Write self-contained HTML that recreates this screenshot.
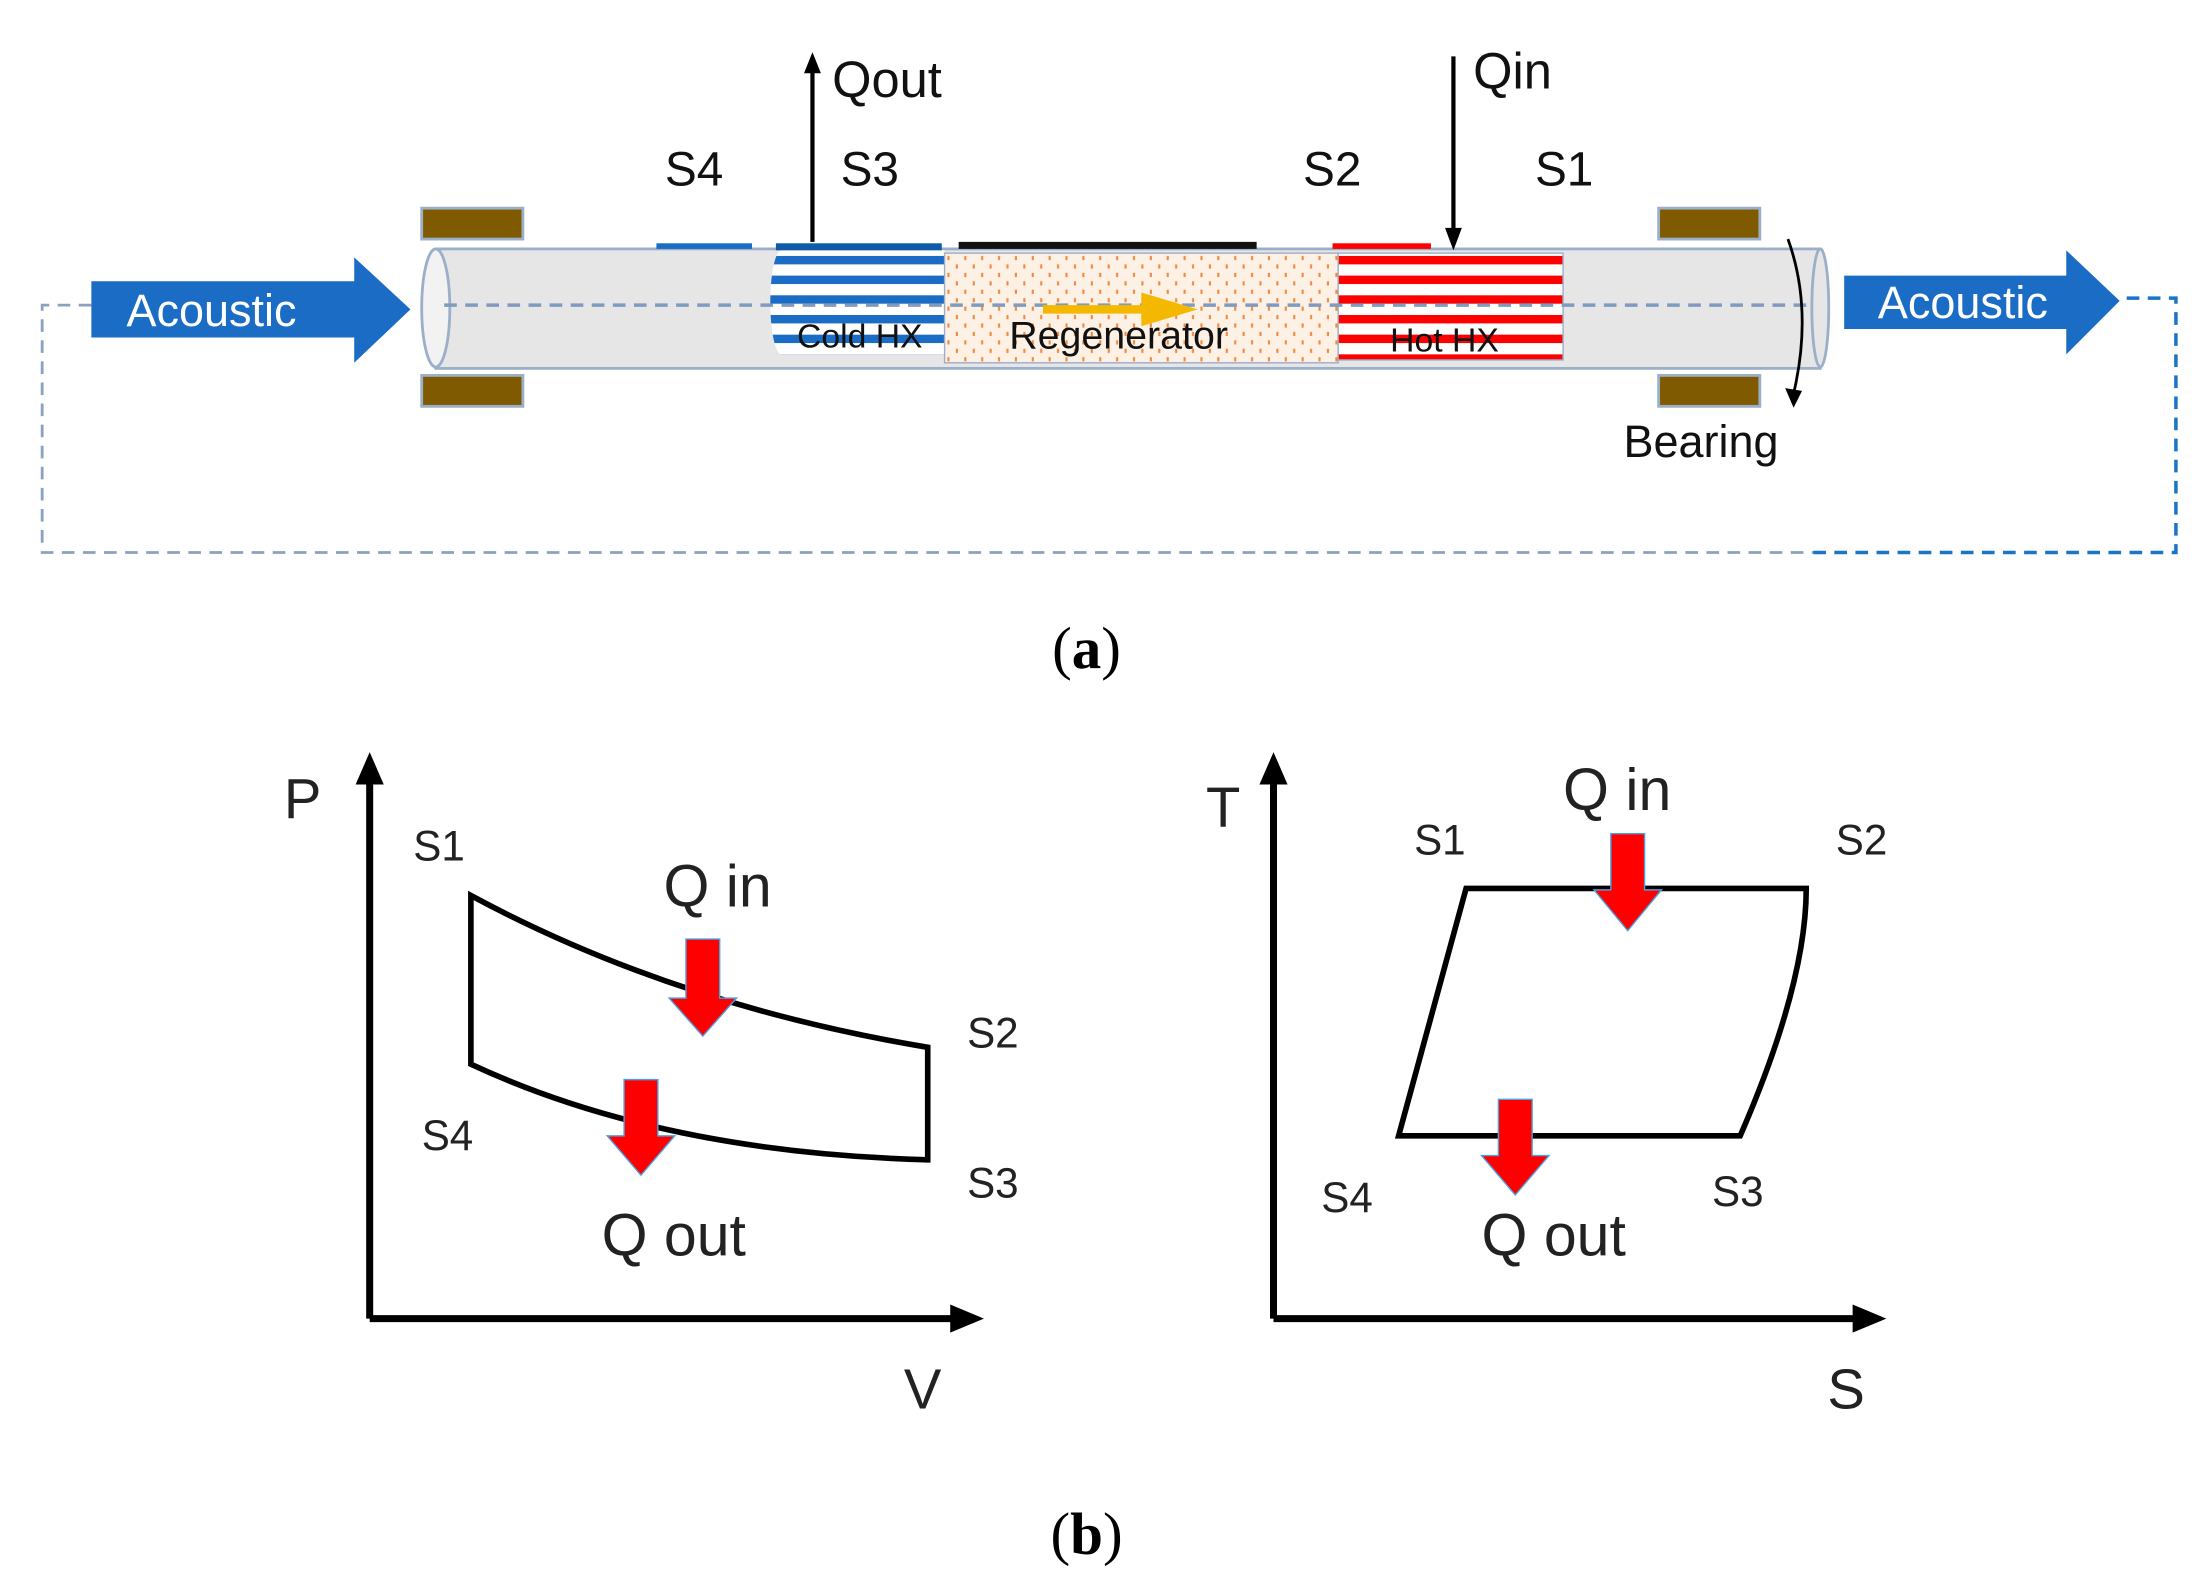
<!DOCTYPE html>
<html><head><style>html,body{margin:0;padding:0;background:#fff}svg{display:block}</style></head>
<body>
<svg width="2197" height="1590" viewBox="0 0 1563 1131" xmlns="http://www.w3.org/2000/svg" font-family="Liberation Sans, sans-serif">
<defs>
<pattern id="dots" width="12" height="12" patternUnits="userSpaceOnUse">
<rect width="12" height="12" fill="#fdf1e6"/>
<rect x="2" y="2" width="1.5" height="3" fill="#f08a40"/><rect x="8" y="8" width="1.5" height="3" fill="#f08a40"/>
</pattern>
<pattern id="blue" width="10" height="14" patternUnits="userSpaceOnUse">
<rect width="10" height="14" fill="#fff"/><rect y="0" width="10" height="6" fill="#1a6cc4"/>
</pattern>
<pattern id="red" width="10" height="14" patternUnits="userSpaceOnUse">
<rect width="10" height="14" fill="#fff"/><rect y="0" width="10" height="6" fill="#f00"/>
</pattern>
</defs>
<!-- dashed loop -->
<polyline points="65,217 30,217 30,393 1290,393" fill="none" stroke="#8aa2c0" stroke-width="2" stroke-dasharray="9,6"/>
<polyline points="1290,393 1548,393 1548,212 1508,212" fill="none" stroke="#1a74c8" stroke-width="2.5" stroke-dasharray="9,6"/>
<!-- bearings -->
<rect x="300" y="148" width="72" height="22" fill="#7f5a00" stroke="#9bb0c8" stroke-width="2"/>
<rect x="300" y="267" width="72" height="22" fill="#7f5a00" stroke="#9bb0c8" stroke-width="2"/>
<rect x="1180" y="148" width="72" height="22" fill="#7f5a00" stroke="#9bb0c8" stroke-width="2"/>
<rect x="1180" y="267" width="72" height="22" fill="#7f5a00" stroke="#9bb0c8" stroke-width="2"/>
<!-- tube -->
<rect x="310" y="177" width="985" height="85" fill="#e6e6e6" stroke="#9bb0c8" stroke-width="2"/>
<ellipse cx="310" cy="219" rx="10" ry="42" fill="#f2f2f2" stroke="#9bb0c8" stroke-width="2"/>
<ellipse cx="1295" cy="219" rx="6" ry="42" fill="#e6e6e6" stroke="#9bb0c8" stroke-width="2"/>
<rect x="556" y="178" width="116" height="74" fill="url(#blue)"/>
<ellipse cx="556" cy="215" rx="8" ry="37" fill="url(#blue)"/>
<rect x="672" y="180" width="280" height="78" fill="url(#dots)" stroke="#9bb0c8"/>
<rect x="952" y="180" width="160" height="76" fill="url(#red)" stroke="#9bb0c8"/>
<line x1="316" y1="217" x2="1288" y2="217" stroke="#7f9cc0" stroke-width="2.5" stroke-dasharray="9,6"/>
<!-- top bars -->
<rect x="467" y="173" width="68" height="4" fill="#1a6cc4"/>
<rect x="552" y="173" width="118" height="5" fill="#0d5aa8"/>
<rect x="682" y="172" width="212" height="5" fill="#111"/>
<rect x="948" y="173" width="70" height="4" fill="#f00"/>
<!-- yellow arrow -->
<line x1="742" y1="220" x2="815" y2="220" stroke="#f5b800" stroke-width="6"/>
<polygon points="812,208 852,220 812,232" fill="#f5b800"/>
<text x="567" y="247" font-size="24" fill="#111">Cold HX</text>
<text x="718" y="248" font-size="28" fill="#111">Regenerator</text>
<text x="989" y="250" font-size="24" fill="#111">Hot HX</text>
<!-- Qout / Qin -->
<line x1="578" y1="172" x2="578" y2="50" stroke="#000" stroke-width="3"/>
<polygon points="572,52 578,37 584,52" fill="#000"/>
<text x="592" y="69" font-size="36" fill="#111">Qout</text>
<line x1="1034" y1="40" x2="1034" y2="165" stroke="#000" stroke-width="3"/>
<polygon points="1028,162 1034,178 1040,162" fill="#000"/>
<text x="1048" y="63" font-size="36" fill="#111">Qin</text>
<text x="473" y="132" font-size="34" fill="#111">S4</text>
<text x="598" y="132" font-size="34" fill="#111">S3</text>
<text x="927" y="132" font-size="34" fill="#111">S2</text>
<text x="1092" y="132" font-size="34" fill="#111">S1</text>
<!-- acoustic arrows -->
<polygon points="65,200 252,200 252,183 292,220 252,258 252,240 65,240" fill="#1a6cc4"/>
<text x="90" y="232" font-size="32" fill="#fff">Acoustic</text>
<polygon points="1312,196 1470,196 1470,178 1508,214 1470,252 1470,234 1312,234" fill="#1a6cc4"/>
<text x="1336" y="226" font-size="32" fill="#fff">Acoustic</text>
<!-- bearing curved arrow -->
<path d="M1272,170 Q1290,220 1276,280" fill="none" stroke="#000" stroke-width="2"/>
<polygon points="1270,276 1276,290 1282,278" fill="#000"/>
<text x="1155" y="325" font-size="32" fill="#111">Bearing</text>
<text x="773" y="475" font-size="42" font-family="Liberation Serif, serif" text-anchor="middle">(<tspan font-weight="bold">a</tspan>)</text>
<!-- PV -->
<g stroke="#000" stroke-width="5" fill="none">
<line x1="263" y1="938" x2="263" y2="555"/><line x1="263" y1="938" x2="680" y2="938"/>
<line x1="906" y1="938" x2="906" y2="555"/><line x1="906" y1="938" x2="1322" y2="938"/>
</g>
<polygon points="253,558 263,535 273,558" fill="#000"/><polygon points="676,928 700,938 676,948" fill="#000"/>
<polygon points="896,558 906,535 916,558" fill="#000"/><polygon points="1318,928 1342,938 1318,948" fill="#000"/>
<path d="M335,637 Q480,715 660,745 L660,825 Q470,820 335,757 Z" fill="none" stroke="#000" stroke-width="4"/>
<path d="M1043,632 L1285,632 Q1285,700 1238,808 L995,808 Z" fill="none" stroke="#000" stroke-width="4"/>
<g fill="#f00" stroke="#4aa0e0" stroke-width="1">
<polygon points="488,668 512,668 512,710 524,710 500,737 476,710 488,710"/>
<polygon points="444,768 468,768 468,808 480,808 456,836 432,808 444,808"/>
<polygon points="1146,593 1170,593 1170,633 1182,633 1158,662 1134,633 1146,633"/>
<polygon points="1066,782 1090,782 1090,822 1102,822 1078,850 1054,822 1066,822"/>
</g>
<g font-size="34" fill="#222">
<text x="202" y="582" font-size="40">P</text>
<text x="643" y="1002" font-size="40">V</text>
<text x="294" y="612" font-size="30">S1</text>
<text x="688" y="745" font-size="30">S2</text>
<text x="688" y="852" font-size="30">S3</text>
<text x="300" y="818" font-size="30">S4</text>
<text x="472" y="645" font-size="42">Q in</text>
<text x="428" y="893" font-size="42">Q out</text>
<text x="858" y="588" font-size="40">T</text>
<text x="1300" y="1002" font-size="40">S</text>
<text x="1006" y="608" font-size="30">S1</text>
<text x="1306" y="608" font-size="30">S2</text>
<text x="1218" y="858" font-size="30">S3</text>
<text x="940" y="862" font-size="30">S4</text>
<text x="1112" y="576" font-size="42">Q in</text>
<text x="1054" y="893" font-size="42">Q out</text>
</g>
<text x="773" y="1105" font-size="42" font-family="Liberation Serif, serif" text-anchor="middle">(<tspan font-weight="bold">b</tspan>)</text>
</svg>
</body></html>
